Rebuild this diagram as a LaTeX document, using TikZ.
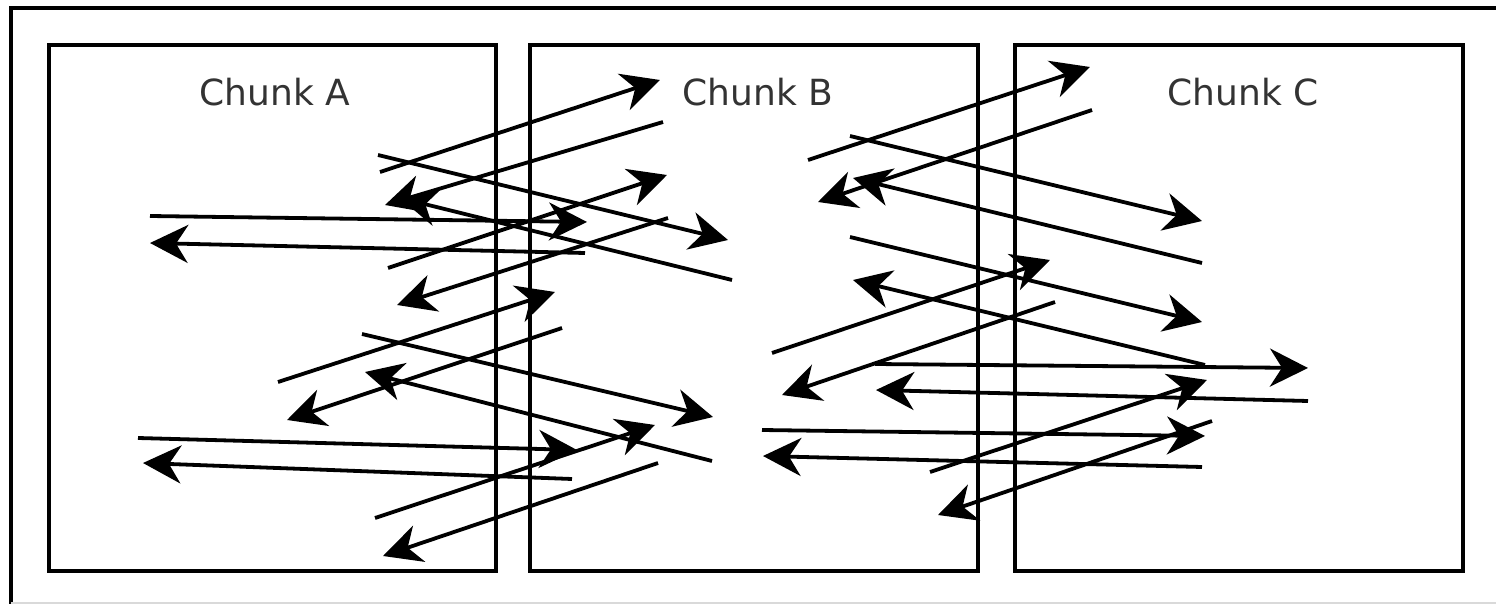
\documentclass[tikz,border=0pt]{standalone}
\usepackage{fontspec}
\setmainfont{DejaVu Sans}
\usetikzlibrary{arrows.meta}
\begin{document}
\begin{tikzpicture}[x=0.5pt,y=-0.5pt,
  chunkbox/.style={draw=black,line width=2.1pt},
  lbl/.style={text=black!80,font=\fontsize{18}{20}\selectfont,inner sep=0pt},
  arr/.style={line width=1.9pt,-{Stealth[length=19pt,width=19pt,inset=6pt]}},
  frame/.style={line width=2pt}]
\useasboundingbox (0,0) rectangle (1496,604);
% outer frame (cropped)
\draw[frame] (11,604) -- (11,8) -- (1496,8);
\draw[black!15,line width=0.8pt] (11,603) -- (1496,603);
% chunks
\draw[chunkbox] (49,45) rectangle (496,571);
\draw[chunkbox] (530,45) rectangle (978,571);
\draw[chunkbox] (1015,45) rectangle (1463,571);
\node[lbl] (la) at (275,92) {Chunk A};
\node[lbl] (lb) at (758,92) {Chunk B};
\node[lbl] (lc) at (1243,92) {Chunk C};
% A-B messages
\foreach \xa/\ya/\xb/\yb in {
  380/172/660/80, 663/122/385/205,
  378/155/728/240, 732/280/400/198,
  150/216/587/222, 585/253/150/243,
  388/268/667/175, 668/218/397/305,
  278/382/555/292, 562/328/287/420,
  362/334/713/417, 712/461/365/372,
  138/438/577/450, 572/479/143/463,
  375/518/655/425, 658/463/383/556}
  \draw[arr] (\xa,\ya) -- (\xb,\yb);
% B-C messages
\foreach \xa/\ya/\xb/\yb in {
  808/160/1090/67, 1092/110/818/202,
  850/136/1202/221, 1202/263/853/178,
  850/237/1202/322, 1205/365/853/280,
  772/353/1050/260, 1055/302/782/395,
  875/364/1308/368, 1308/401/876/390,
  762/430/1205/436, 1202/467/763/456,
  930/472/1207/380, 1212/421/938/515}
  \draw[arr] (\xa,\ya) -- (\xb,\yb);
\end{tikzpicture}
\end{document}
